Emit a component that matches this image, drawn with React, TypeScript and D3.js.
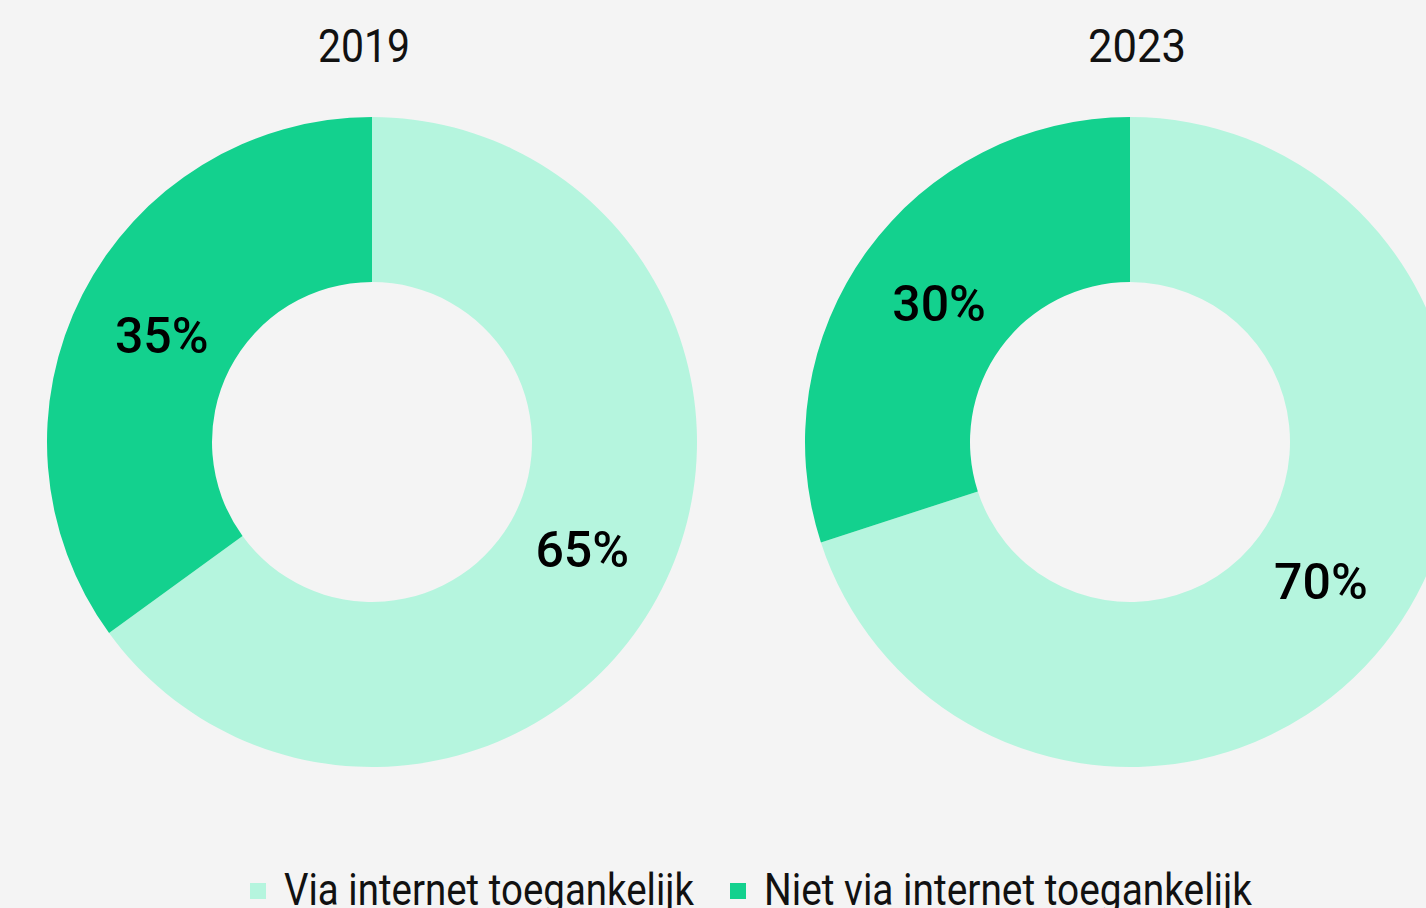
import React, { useEffect, useRef } from "react";
import * as d3 from "d3";

// categories + values per year
const categories = ["Via internet toegankelijk", "Niet via internet toegankelijk"];
const years = ["2019", "2023"];
const values2019 = [65, 35];
const values2023 = [70, 30];
const colors = ["#b5f5de", "#13d18e"];

const App = () => {
    const svgRef = useRef<SVGSVGElement>(null);

    useEffect(() => {
        document.body.style.margin = "0";
        const width = 1426;
        const height = 908;
        const svg = d3.select(svgRef.current).attr("width", width).attr("height", height);
        svg.selectAll("*").remove();

        svg.append("rect").attr("width", width).attr("height", height).attr("fill", "#f4f4f4");

        const outer = 325;
        const inner = 160;
        const centers = [372, 1130];
        const cy = 442;
        const font = "Roboto, 'Noto Sans', sans-serif";

        const pie = d3.pie<number>().sort(null).value((d) => d);
        const arc = d3.arc<d3.PieArcDatum<number>>().innerRadius(inner).outerRadius(outer);
        // labels sit a bit inside the middle of the ring
        const labelArc = d3.arc<d3.PieArcDatum<number>>().innerRadius(236).outerRadius(236);

        [values2019, values2023].forEach((vals, i) => {
            const g = svg.append("g").attr("transform", `translate(${centers[i]},${cy})`);
            const arcs = pie(vals);

            g.selectAll("path")
                .data(arcs)
                .enter()
                .append("path")
                .attr("d", arc)
                .attr("fill", (_d, j) => colors[j]);

            g.selectAll("text.lbl")
                .data(arcs)
                .enter()
                .append("text")
                .attr("class", "lbl")
                .attr("transform", (d) => {
                    const [x, y] = labelArc.centroid(d);
                    return `translate(${x},${y})`;
                })
                .attr("text-anchor", "middle")
                .attr("dy", "0.36em")
                .attr("font-family", font)
                .attr("font-weight", 500)
                .attr("font-size", 50)
                .attr("fill", "#000")
                .text((d) => `${d.data}%`);

            // title
            svg.append("text")
                .attr("x", centers[i] + (i === 0 ? -8 : 7))
                .attr("y", 62)
                .attr("text-anchor", "middle")
                .attr("font-family", font)
                .attr("font-size", 47)
                .attr("textLength", i === 0 ? 92 : 98)
                .attr("lengthAdjust", "spacingAndGlyphs")
                .attr("fill", "#111")
                .text(years[i]);
        });

        // legend (cut off at the bottom edge, as in the source)
        const legendX = [250, 730];
        const legendW = [410, 488];
        const lg = svg.append("g");
        categories.forEach((c, i) => {
            lg.append("rect")
                .attr("x", legendX[i])
                .attr("y", 883)
                .attr("width", 16)
                .attr("height", 16)
                .attr("fill", colors[i]);
            lg.append("text")
                .attr("x", legendX[i] + 34)
                .attr("y", 905)
                .attr("font-family", font)
                .attr("font-size", 45)
                .attr("textLength", legendW[i])
                .attr("lengthAdjust", "spacingAndGlyphs")
                .attr("fill", "#111")
                .text(c);
        });
    }, []);

    return (
        <svg ref={svgRef} style={{ display: "block", position: "absolute", left: 0, top: 0 }}></svg>
    );
};

export default App;
